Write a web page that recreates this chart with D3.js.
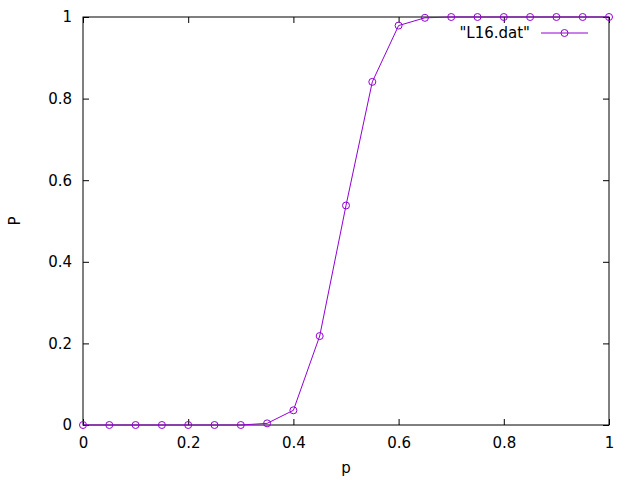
<!DOCTYPE html>
<html>
<head>
<meta charset="utf-8">
<script src="https://cdn.jsdelivr.net/npm/d3@7"></script>
<style>
  body { margin: 0; background: #fff; }
  text { font-family: "DejaVu Sans", sans-serif; font-size: 15px; fill: #000; }
</style>
</head>
<body>
<svg width="640" height="480"></svg>
<script>
var pValues = [0, 0.05, 0.1, 0.15, 0.2, 0.25, 0.3, 0.35, 0.4, 0.45, 0.5,
               0.55, 0.6, 0.65, 0.7, 0.75, 0.8, 0.85, 0.9, 0.95, 1];
var PValues = [0, 0, 0, 0, 0, 0, 0, 0.004, 0.036, 0.218, 0.538,
               0.841, 0.979, 0.998, 1, 1, 1, 1, 1, 1, 1];
var xTicks = [0, 0.2, 0.4, 0.6, 0.8, 1];
var yTicks = [0, 0.2, 0.4, 0.6, 0.8, 1];
var seriesName = "\"L16.dat\"";

var color = "#9400d3";

var svg = d3.select("svg"),
    margin = {top: 17, right: 31, bottom: 55, left: 83},
    width = +svg.attr("width") - margin.left - margin.right,
    height = +svg.attr("height") - margin.top - margin.bottom;

var data = pValues.map(function(p, i) { return {p: p, P: PValues[i]}; });

var x = d3.scaleLinear().domain([0, 1]).range([0, width]),
    y = d3.scaleLinear().domain([0, 1]).range([height, 0]);

var g = svg.append("g")
    .attr("transform", "translate(" + margin.left + "," + margin.top + ")");

var fmt = function(d) { return d3.format("")(d); };

// ticks pointing inward on all four sides (gnuplot style)
g.append("g")
    .attr("transform", "translate(0," + height + ")")
    .call(d3.axisBottom(x).tickValues(xTicks).tickFormat(fmt).tickSizeInner(-6).tickSizeOuter(0).tickPadding(12));
g.append("g")
    .call(d3.axisTop(x).tickValues(xTicks).tickFormat("").tickSizeInner(-6).tickSizeOuter(0));
g.append("g")
    .call(d3.axisLeft(y).tickValues(yTicks).tickFormat(fmt).tickSizeInner(-6).tickSizeOuter(0).tickPadding(11));
g.append("g")
    .attr("transform", "translate(" + width + ",0)")
    .call(d3.axisRight(y).tickValues(yTicks).tickFormat("").tickSizeInner(-6).tickSizeOuter(0));

g.selectAll(".domain").remove();
g.selectAll(".tick line").attr("stroke", "#000");
g.selectAll(".tick text").style("font-size", "15px").style("font-family", "DejaVu Sans, sans-serif").attr("fill", "#000");

g.append("rect")
    .attr("width", width)
    .attr("height", height)
    .attr("fill", "none")
    .attr("stroke", "#000")
    .attr("stroke-width", 1);

var line = d3.line()
    .x(function(d) { return x(d.p); })
    .y(function(d) { return y(d.P); });

g.append("path")
    .datum(data)
    .attr("fill", "none")
    .attr("stroke", color)
    .attr("stroke-width", 1)
    .attr("d", line);

g.selectAll(".pt")
    .data(data)
    .enter().append("circle")
    .attr("class", "pt")
    .attr("cx", function(d) { return x(d.p); })
    .attr("cy", function(d) { return y(d.P); })
    .attr("r", 3.5)
    .attr("fill", "none")
    .attr("stroke", color)
    .attr("stroke-width", 1);

// legend
var legend = g.append("g").attr("transform", "translate(" + (width - 21) + ",16)");
legend.append("line")
    .attr("x1", -47).attr("x2", 0)
    .attr("stroke", color);
legend.append("circle")
    .attr("cx", -23.5).attr("r", 3.5)
    .attr("fill", "none").attr("stroke", color);
legend.append("text")
    .attr("x", -58).attr("dy", "0.35em")
    .attr("text-anchor", "end")
    .text(seriesName);

// axis labels
svg.append("text")
    .attr("x", margin.left + width / 2)
    .attr("y", 473)
    .attr("text-anchor", "middle")
    .text("p");

svg.append("text")
    .attr("transform", "translate(20," + (margin.top + height / 2) + ") rotate(-90)")
    .attr("text-anchor", "middle")
    .text("P");
</script>
</body>
</html>
